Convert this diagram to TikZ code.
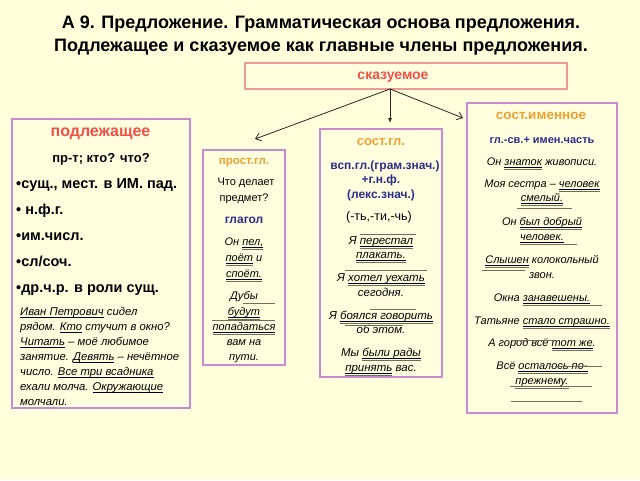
\documentclass[tikz,border=0pt]{standalone}
\usepackage{fontspec}
\setmainfont{Liberation Sans}
\usetikzlibrary{arrows.meta}
\definecolor{bg}{HTML}{FFFFDC}
\definecolor{boxf}{HTML}{FFFFE0}
\definecolor{boxc}{HTML}{C98AD0}
\definecolor{skc}{HTML}{EE9A95}
\definecolor{redt}{HTML}{F0504A}
\definecolor{oran}{HTML}{F0A030}
\definecolor{blue1}{HTML}{2B2B8C}
\definecolor{shade}{HTML}{6E6E5E}
\newcommand\sbj[1]{\leavevmode\setbox0\hbox{#1}\rlap{\rule[-2pt]{\wd0}{0.6pt}}\box0\relax}
\newcommand\prd[1]{\leavevmode\setbox0\hbox{#1}\rlap{\textcolor{shade}{\rule[-4.2pt]{\wd0}{1.3pt}}}\rlap{\rule[-2pt]{\wd0}{0.6pt}}\box0\relax}
\tikzset{
 panel/.style={draw=boxc, line width=1.2pt, fill=boxf, inner sep=0pt},
 tx/.style={inner sep=0pt, anchor=mid},
 txl/.style={inner sep=0pt, anchor=mid west},
 ttl/.style={tx, font=\bfseries\fontsize{18}{20}\selectfont},
 hdr/.style={tx, font=\bfseries\fontsize{13}{15}\selectfont},
 bul/.style={txl, font=\bfseries\fontsize{14.5}{16}\selectfont},
 exs/.style={tx, font=\itshape\fontsize{11}{13}\selectfont},
 exsl/.style={txl, font=\itshape\fontsize{11.3}{13}\selectfont},
 rg/.style={tx, font=\fontsize{11}{13}\selectfont},
 bl/.style={tx, text=blue1, font=\bfseries\fontsize{12}{14}\selectfont},
 arr/.style={draw=black!85, line width=0.8pt},
 stray/.style={draw=shade, line width=0.9pt},
}
\begin{document}
\begin{tikzpicture}[x=1pt,y=-1pt]
\useasboundingbox (0,0) rectangle (640,480);
\fill[bg] (0,0) rectangle (640,480);
% title
\node[ttl] (title1) at (321,26) {А 9. Предложение. Грамматическая основа предложения.};
\node[ttl] (title2) at (321,49) {Подлежащее и сказуемое как главные члены предложения.};
% boxes
\node[panel, draw=skc, minimum width=322pt, minimum height=26pt] (sk) at (406,76) {};
\node[panel, minimum width=178pt, minimum height=289pt] (pd) at (101,263.5) {};
\node[panel, minimum width=82pt, minimum height=215pt] (pg) at (244,257.5) {};
\node[panel, minimum width=122pt, minimum height=248pt] (sg) at (381,253) {};
\node[panel, minimum width=150pt, minimum height=310pt] (si) at (542,258) {};
% arrows
\coordinate (ap) at (390,89);
\coordinate (e1) at (255,139);
\coordinate (e2) at (390,123);
\coordinate (e3) at (463,118);
\draw[arr,-{Straight Barb[length=5pt,width=8pt]}] (ap) -- (e1);
\draw[arr,-{Latex[length=5pt,width=4pt]}] (ap) -- (e2);
\draw[arr,-{Straight Barb[length=5pt,width=8pt]}] (ap) -- (e3);
% skazuemoe
\node[hdr, text=redt, font=\bfseries\fontsize{14}{16}\selectfont] (skt) at (393,77) {сказуемое};
% podlezhaschee
\node[hdr, text=redt, font=\bfseries\fontsize{16}{18}\selectfont] (pdh) at (100.5,134) {подлежащее};
\node[hdr] (pd0) at (101,160) {пр-т; кто? что?};
\node[bul] (pd1) at (16,186) {•сущ., мест. в ИМ. пад.};
\node[bul] (pd2) at (16,212) {• н.ф.г.};
\node[bul] (pd3) at (16,238) {•им.числ.};
\node[bul] (pd4) at (16,264) {•сл/соч.};
\node[bul] (pd5) at (16,290) {•др.ч.р. в роли сущ.};
\node[exsl] (pe1) at (20,313) {\sbj{Иван Петрович} сидел};
\node[exsl] (pe2) at (20,328) {рядом. \sbj{Кто} стучит в окно?};
\node[exsl] (pe3) at (20,343) {\sbj{Читать} – моё любимое};
\node[exsl] (pe4) at (20,358) {занятие. \sbj{Девять} – нечётное};
\node[exsl] (pe5) at (20,373) {число. \sbj{Все три всадника}};
\node[exsl] (pe6) at (20,388) {ехали молча. \sbj{Окружающие}};
\node[exsl] (pe7) at (20,403) {молчали.};
% prost.gl.
\node[hdr, text=oran, font=\bfseries\fontsize{11.5}{13}\selectfont] (pgh) at (244,162) {прост.гл.};
\node[rg] (pg1) at (246,183) {Что делает};
\node[rg] (pg2) at (244,199) {предмет?};
\node[bl] (pg3) at (244,221) {глагол};
\node[exs] (pg4) at (244,243) {Он \prd{пел,}};
\node[exs] (pg5) at (244,259) {\prd{поёт} и};
\node[exs] (pg6) at (244,275) {\prd{споёт.}};
\node[exs] (pg7) at (244,297) {Дубы};
\node[exs] (pg8) at (244,313) {\prd{будут}};
\node[exs] (pg9) at (244,328) {\prd{попадаться}};
\node[exs] (pg10) at (244,343) {вам на};
\node[exs] (pg11) at (244,358) {пути.};
\draw[stray] (243,303) -- (275,303);
\draw[stray] (212,320) -- (275,320);
% sost.gl.
\node[hdr, text=oran, font=\bfseries\fontsize{13}{15}\selectfont] (sgh) at (381,143) {сост.гл.};
\node[bl] (sg1) at (385,167) {всп.гл.(грам.знач.)};
\node[bl] (sg2) at (381,181) {+г.н.ф.};
\node[bl] (sg3) at (381,196) {(лекс.знач.)};
\node[rg, font=\fontsize{12.5}{14}\selectfont] (sg4) at (379,218) {(-ть,-ти,-чь)};
\node[exs, font=\itshape\fontsize{11.5}{13}\selectfont] (sg5) at (381,242) {Я \prd{перестал}};
\node[exs, font=\itshape\fontsize{11.5}{13}\selectfont] (sg6) at (381,256) {\prd{плакать.}};
\node[exs, font=\itshape\fontsize{11.5}{13}\selectfont] (sg7) at (381,279) {Я \prd{хотел уехать}};
\node[exs, font=\itshape\fontsize{11.5}{13}\selectfont] (sg8) at (381,294) {сегодня.};
\node[exs, font=\itshape\fontsize{11.5}{13}\selectfont] (sg9) at (381,317) {Я \prd{боялся говорить}};
\node[exs, font=\itshape\fontsize{11.5}{13}\selectfont] (sg10) at (381,331) {об этом.};
\node[exs, font=\itshape\fontsize{11.5}{13}\selectfont] (sg11) at (381,354) {Мы \prd{были рады}};
\node[exs, font=\itshape\fontsize{11.5}{13}\selectfont] (sg12) at (381,369) {\prd{принять} вас.};
\draw[stray] (360,234) -- (416,234);
\draw[stray] (345,270) -- (427,270);
\draw[stray] (370,309) -- (416,309);
\draw[stray] (345,325) -- (403,325);
% sost.imennoe
\node[hdr, text=oran, font=\bfseries\fontsize{13.5}{15}\selectfont] (sih) at (541,117) {сост.именное};
\node[bl, font=\bfseries\fontsize{11}{13}\selectfont] (si1) at (542,141) {гл.-св.+ имен.часть};
\node[exs] (si2) at (542,163) {Он \prd{знаток} живописи.};
\node[exs] (si3) at (542,185) {Моя сестра – \prd{человек}};
\node[exs] (si4) at (542,199) {\prd{смелый.}};
\node[exs] (si5) at (542,223) {Он \prd{был добрый}};
\node[exs] (si6) at (542,238) {\prd{человек.}};
\node[exs] (si7) at (542,261) {\prd{Слышен} колокольный};
\node[exs] (si8) at (542,276) {звон.};
\node[exs] (si9) at (542,299) {Окна \prd{занавешены.}};
\node[exs] (si10) at (542,322) {Татьяне \prd{стало страшно.}};
\node[exs] (si11) at (542,344) {А город всё \prd{тот же}.};
\node[exs] (si12) at (542,367) {Всё \prd{осталось по-}};
\node[exs] (si13) at (542,382) {\prd{прежнему.}};
\draw[stray] (517,208) -- (572,208);
\draw[stray] (520,244) -- (577,244);
\draw[stray] (482,270) -- (525,270);
\draw[stray] (525,305) -- (602,305);
\draw[stray] (512,340) -- (555,340);
\draw[stray] (555,366) -- (602,366);
\draw[stray] (510,386) -- (592,386);
\draw[stray] (511,401) -- (582,401);
\end{tikzpicture}
\end{document}
